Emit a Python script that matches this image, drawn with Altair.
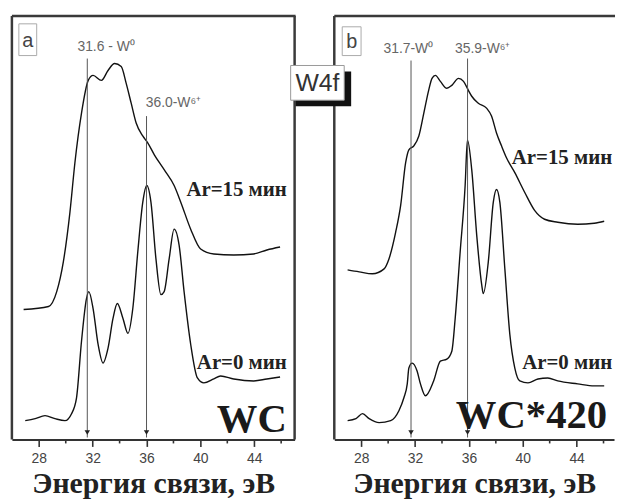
import altair as alt
import pandas as pd

# ---------------- data ----------------
# Panel a (WC)
a15_x = [26.87, 28.72, 29.33, 29.82, 30.31, 30.68, 31.17, 31.67, 32.03, 32.65, 33.14, 33.63, 34.12,
         34.49, 34.86, 35.23, 35.72, 36.09, 36.58, 37.31, 38.05, 38.55, 39.28, 40.02, 41.0, 42.48,
         43.95, 44.94, 45.92]
a15_y = [131, 134, 149, 179, 229, 279, 329, 362, 367, 362, 372, 379, 376,
         359, 339, 319, 306, 299, 287, 272, 256, 239, 212, 192, 187, 186,
         187, 191, 194]
a0_x = [26.99, 27.73, 28.46, 29.2, 29.94, 30.43, 30.8, 31.17, 31.54, 31.71, 32.03, 32.4, 32.77,
        33.14, 33.51, 33.83, 34.25, 34.62, 34.98, 35.35, 35.72, 36.02, 36.33, 36.7, 37.07, 37.31,
        37.68, 38.05, 38.42, 38.79, 39.28, 39.78, 40.26, 41.0, 41.5, 42.48, 43.95, 44.94, 45.92]
a0_y = [19, 21, 24, 21, 19, 26, 42, 99, 142, 149, 132, 96, 77,
        92, 122, 137, 122, 107, 132, 189, 239, 256, 239, 182, 146, 149,
        182, 212, 196, 149, 96, 62, 57, 61, 64, 61, 59, 61, 63]

# Panel b (WC*420)
b15_x = [26.99, 27.85, 28.83, 29.7, 30.06, 30.56, 30.93, 31.3, 31.54, 31.91, 32.28, 32.65, 33.01,
         33.26, 33.51, 33.88, 34.36, 34.73, 35.23, 35.6, 35.96, 36.21, 36.7, 37.31, 37.68, 38.05,
         38.42, 38.79, 39.41, 40.15, 40.88, 41.62, 42.6, 44.08, 45.31, 46.05]
b15_y = [171, 169, 167, 172, 182, 209, 236, 279, 292, 296, 306, 329, 352,
         364, 367, 361, 354, 357, 364, 361, 352, 346, 339, 334, 326, 309,
         296, 284, 269, 249, 231, 222, 219, 217, 218, 220]
b0_x = [26.99, 27.61, 28.1, 28.59, 29.33, 30.19, 30.8, 31.17, 31.42, 31.54, 31.78, 32.15, 32.4,
        32.77, 33.38, 33.88, 34.36, 34.73, 34.98, 35.35, 35.72, 35.89, 36.21, 36.58, 36.95, 37.07,
        37.44, 37.81, 38.05, 38.3, 38.67, 39.04, 39.41, 39.78, 40.39, 41.13, 41.86, 42.6, 44.08,
        45.31, 46.05]
b0_y = [19, 21, 26, 21, 17, 19, 29, 42, 56, 72, 77, 69, 56,
        44, 59, 79, 81, 89, 122, 189, 256, 302, 272, 206, 156, 147,
        179, 239, 252, 239, 172, 106, 72, 59, 57, 61, 62, 59, 56,
        54, 54]

series_names = ["Ar=15 мин", "Ar=0 мин"]
x_ticks = [28, 32, 36, 40, 44]
minor_ticks = [30, 34, 38, 42, 46]

a_peaks = [31.6, 36.0]
a_peak_tops = [384, 326]
a_peak_labels = ["31.6 - W⁰", "36.0-W⁶⁺"]
a_label_x = [33.0, 38.0]
a_label_y = [396, 339]

b_peaks = [31.7, 35.9]
b_peak_tops = [382, 384]
b_peak_labels = ["31.7-W⁰", "35.9-W⁶⁺"]
b_label_x = [31.5, 37.03]
b_label_y = [394, 394]

a_series_label_y = [251, 77]
b_series_label_y = [284, 77]

H = 427
SANS = "Liberation Sans"
SERIF = "Liberation Serif"
FRAME = "#3a3a3a"


def panel(x15, y15, x0, y0, peaks, tops, plabels, plx, ply, sly, slx,
          name, name_x, name_y, letter, lbox, width, xmax, right_border):
    xs = alt.Scale(domain=[26, xmax], nice=False, zero=False)
    ys = alt.Scale(domain=[0, H], nice=False, zero=False)

    one = pd.DataFrame({"k": [0]})
    frame = [
        alt.Chart(one).mark_rule(color=FRAME, strokeWidth=2.5).encode(
            x=alt.value(0), x2=alt.value(width + 1), y=alt.value(0)),
        alt.Chart(one).mark_rule(color=FRAME, strokeWidth=2.5).encode(
            x=alt.value(0), y=alt.value(0), y2=alt.value(H)),
    ]
    if right_border:
        frame.append(alt.Chart(one).mark_rule(color=FRAME, strokeWidth=2.5).encode(
            x=alt.value(width), y=alt.value(0), y2=alt.value(H)))

    curves = pd.DataFrame({
        "x": x15 + x0,
        "y": y15 + y0,
        "s": [series_names[0]] * len(x15) + [series_names[1]] * len(x0),
    })
    line = alt.Chart(curves).mark_line(
        interpolate="monotone", color="#111", strokeWidth=1.4
    ).encode(
        x=alt.X("x:Q", scale=xs, axis=alt.Axis(
            values=x_ticks, tickSize=7, tickWidth=1.6, tickColor="#333",
            domainColor="#333", domainWidth=2, grid=False,
            labelFont=SANS, labelFontSize=14, labelColor="#444", labelPadding=5,
            title="Энергия связи, эВ", titleFont=SERIF, titleFontSize=30,
            titleFontWeight="bold", titleColor="#222", titlePadding=3)),
        y=alt.Y("y:Q", scale=ys, axis=None),
        detail="s:N",
    )

    minor = alt.Chart(pd.DataFrame({"x": minor_ticks})).mark_rule(
        color="#333", strokeWidth=1.6
    ).encode(x=alt.X("x:Q", scale=xs), y=alt.value(H), y2=alt.value(H + 4))

    pk = pd.DataFrame({"x": peaks, "top": tops, "zero": [2] * len(peaks),
                       "head": [7] * len(peaks)})
    rules = alt.Chart(pk).mark_rule(color="#555", strokeWidth=1).encode(
        x=alt.X("x:Q", scale=xs), y=alt.Y("top:Q", scale=ys), y2="zero:Q")
    heads = alt.Chart(pk).mark_point(
        shape="triangle-down", filled=True, size=30, color="#222", opacity=1
    ).encode(x=alt.X("x:Q", scale=xs), y=alt.Y("head:Q", scale=ys))

    lab = pd.DataFrame({"x": plx, "y": ply, "t": plabels})
    ptext = alt.Chart(lab).mark_text(
        font=SANS, fontSize=14, color="#666", align="center", baseline="middle"
    ).encode(x=alt.X("x:Q", scale=xs), y=alt.Y("y:Q", scale=ys), text="t:N")

    sl = pd.DataFrame({"x": [slx, slx], "y": sly, "t": series_names})
    stext = alt.Chart(sl).mark_text(
        font=SERIF, fontSize=21, fontWeight="bold", color="#222",
        align="right", baseline="middle"
    ).encode(x=alt.X("x:Q", scale=xs), y=alt.Y("y:Q", scale=ys), text="t:N")

    nm = pd.DataFrame({"x": [name_x], "y": [name_y], "t": [name]})
    ntext = alt.Chart(nm).mark_text(
        font=SERIF, fontSize=41, fontWeight="bold", color="#1a1a1a",
        align="right", baseline="alphabetic"
    ).encode(x=alt.X("x:Q", scale=xs), y=alt.Y("y:Q", scale=ys), text="t:N")

    bx0, bx1, by0, by1 = lbox
    lrect = alt.Chart(pd.DataFrame({"t": [letter]})).mark_rect(
        fill="white", stroke="#aaa", strokeWidth=1
    ).encode(x=alt.value(bx0), x2=alt.value(bx1), y=alt.value(by0), y2=alt.value(by1))
    ltext = alt.Chart(pd.DataFrame({"t": [letter]})).mark_text(
        font=SANS, fontSize=20, color="#444", align="center", baseline="middle"
    ).encode(x=alt.value((bx0 + bx1) / 2), y=alt.value((by0 + by1) / 2 + 1), text="t:N")

    layers = [line, minor] + frame + [rules, heads, ptext, stext, ntext, lrect, ltext]
    return layers


pa_layers = panel(a15_x, a15_y, a0_x, a0_y, a_peaks, a_peak_tops, a_peak_labels,
                  a_label_x, a_label_y, a_series_label_y, 46.42,
                  "WC", 46.42, 8, "a", (7, 25, 8, 40), 285, 47.0, True)
pb_layers = panel(b15_x, b15_y, b0_x, b0_y, b_peaks, b_peak_tops, b_peak_labels,
                  b_label_x, b_label_y, b_series_label_y, 46.64,
                  "WC*420", 46.27, 12, "b", (8, 27, 11, 40), 282, 46.78, False)

# W4f box straddling the two panels (drawn with panel b)
w4f = pd.DataFrame({"t": ["W4f"]})
shadow = alt.Chart(w4f).mark_rect(fill="#111").encode(
    x=alt.value(-39), x2=alt.value(17), y=alt.value(56), y2=alt.value(91))
box = alt.Chart(w4f).mark_rect(fill="white", stroke="#999", strokeWidth=1).encode(
    x=alt.value(-44), x2=alt.value(10), y=alt.value(50), y2=alt.value(85))
boxtext = alt.Chart(w4f).mark_text(
    font=SANS, fontSize=25, color="#333", align="center", baseline="middle"
).encode(x=alt.value(-17), y=alt.value(68), text="t:N")

pa = alt.layer(*pa_layers).properties(width=285, height=H)
pb = alt.layer(*pb_layers, shadow, box, boxtext).properties(width=282, height=H)

chart = alt.hconcat(pa, pb, spacing=40, bounds="flush").properties(
    padding={"left": 10, "top": 12, "right": 0, "bottom": 0},
    background="white",
).configure_view(stroke=None)

chart.save("out.html", embed_options={"renderer": "svg", "actions": False})
